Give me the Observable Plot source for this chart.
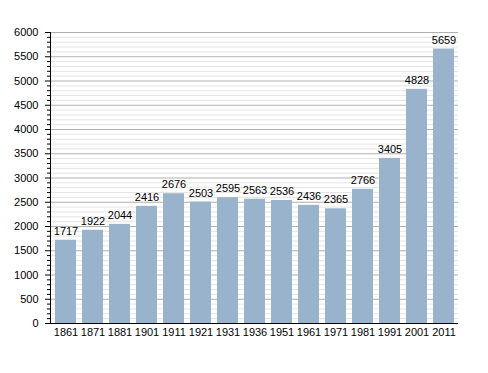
<!DOCTYPE html>
<html><head><meta charset="utf-8">
<script src="https://cdn.jsdelivr.net/npm/d3@7"></script>
<script src="https://cdn.jsdelivr.net/npm/@observablehq/plot@0.6"></script>
<style>body{margin:0;background:#fff;} svg{font-family:"Liberation Sans",Arial,sans-serif;}</style>
</head><body><div id="chart"></div>
<script>
const years = ["1861","1871","1881","1901","1911","1921","1931","1936","1951","1961","1971","1981","1991","2001","2011"];
const population = [1717,1922,2044,2416,2676,2503,2595,2563,2536,2436,2365,2766,3405,4828,5659];
const majorTicks = d3.range(0, 6001, 500);
const minorTicks = d3.range(0, 6001, 100).filter(v => v % 500 !== 0);

const data = years.map((y, i) => ({year: y, value: population[i]}));

const chart = Plot.plot({
  width: 488, height: 373,
  marginLeft: 50, marginRight: 30, marginTop: 32, marginBottom: 50,
  style: {fontSize: "11px", fontFamily: "Liberation Sans, Arial, sans-serif", color: "#000"},
  x: {domain: years, paddingInner: 0.23, paddingOuter: 0.04, label: null},
  y: {domain: [0, 6000], label: null},
  marks: [
    Plot.ruleY(minorTicks, {stroke: "#e4e4e4", strokeWidth: 1}),
    Plot.ruleY(majorTicks.slice(1), {stroke: "#b0b0b0", strokeWidth: 1}),
    Plot.barY(data, {x: "year", y: "value", fill: "#9ab3cd"}),
    Plot.text(data, {x: "year", y: "value", text: d => String(d.value), dy: -9, fill: "#000", fontSize: 11}),
    Plot.axisY({ticks: majorTicks, tickSize: 5, tickPadding: 7, tickFormat: "d", label: null}),
    Plot.axisY({ticks: minorTicks, tickSize: 3, tickFormat: () => "", label: null}),
    Plot.axisX({tickSize: 0, tickPadding: 5, label: null}),
    Plot.frame({anchor: "left", stroke: "#000"}),
    Plot.ruleY([0], {stroke: "#000"})
  ]
});
document.getElementById("chart").appendChild(chart);
</script>
</body></html>
